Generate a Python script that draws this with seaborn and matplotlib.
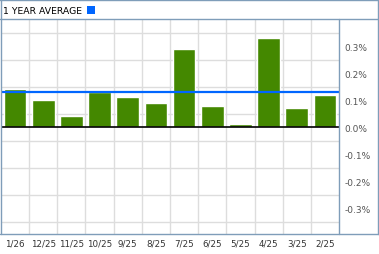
import numpy as np
import pandas as pd
import matplotlib
matplotlib.use("Agg")
import matplotlib.pyplot as plt
from matplotlib.patches import Rectangle
from matplotlib.lines import Line2D
import seaborn as sns

categories = ["1/26", "12/25", "11/25", "10/25", "9/25", "8/25", "7/25", "6/25", "5/25", "4/25", "3/25", "2/25"]
values = [0.14, 0.10, 0.04, 0.13, 0.11, 0.09, 0.29, 0.08, 0.01, 0.33, 0.07, 0.12]
average = 0.13
ytick_values = [-0.3, -0.2, -0.1, 0.0, 0.1, 0.2, 0.3]
ytick_labels = ["-0.3%", "-0.2%", "-0.1%", "0.0%", "0.1%", "0.2%", "0.3%"]
title = "1 YEAR AVERAGE"

df = pd.DataFrame({"month": categories, "value": values})

sns.set_style("white")
plt.rcParams["font.family"] = ["DejaVu Sans"]

W, H = 379, 255
fig = plt.figure(figsize=(W / 100, H / 100), dpi=100)
fig.patch.set_facecolor("white")

def fx(px):
    return px / W

def fy(py):
    return 1 - py / H

ax = fig.add_axes([fx(1), fy(235), fx(339) - fx(1), fy(20) - fy(235)])

sns.barplot(data=df, x="month", y="value", color="#448800", width=0.8,
            saturation=1, ax=ax, zorder=3, order=categories)

ax.set_ylim(-0.395, 0.40)
ax.set_xlim(-0.5, len(categories) - 0.5)

# grid
ax.set_xticks(np.arange(0.5, len(categories) - 0.5, 1), minor=True)
ax.set_yticks(np.arange(-0.35, 0.40, 0.05), minor=True)
ax.grid(which="minor", color="#dddddd", linewidth=1, zorder=0)
ax.grid(which="major", visible=False)
ax.set_axisbelow(True)

ax.axhline(0, color="black", linewidth=1.2, zorder=4)
ax.axhline(average, color="#0066ff", linewidth=1.6, zorder=5)

ax.yaxis.tick_right()
ax.set_yticks(ytick_values)
ax.set_yticklabels(ytick_labels)
ax.tick_params(axis="y", which="both", length=0, pad=4, labelsize=6.5, labelcolor="#555555")
ax.tick_params(axis="x", which="both", length=0, pad=3, labelsize=6.3, labelcolor="#333333")
ax.set_xlabel("")
ax.set_ylabel("")

border = "#7f9db9"
for s in ax.spines.values():
    s.set_visible(False)

# outer frame lines in figure coordinates
def hline(y, x0, x1):
    fig.add_artist(Line2D([fx(x0), fx(x1)], [fy(y), fy(y)], color=border, linewidth=1.0))

def vline(x, y0, y1):
    fig.add_artist(Line2D([fx(x), fx(x)], [fy(y0), fy(y1)], color=border, linewidth=1.0))

hline(0.6, 0, 379)
hline(20, 0, 379)
hline(235, 0, 379)
vline(0.6, 0, 235)
vline(378.4, 0, 235)
vline(339, 20, 235)

fig.text(fx(3), fy(11), title, fontsize=6.7, color="black", va="center", ha="left")
fig.add_artist(Rectangle((fx(87), fy(15)), fx(8), 8 / H, facecolor="#0066ff",
                         edgecolor="none", transform=fig.transFigure))

fig.savefig("out.png", dpi=100, facecolor="white")
